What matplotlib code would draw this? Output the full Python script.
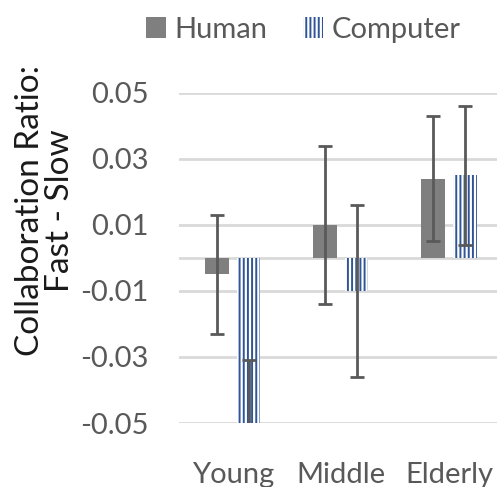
import matplotlib
matplotlib.use('Agg')
import matplotlib.pyplot as plt
import numpy as np

# collaboration ratio difference (fast - slow) per age group
groups = ['Young', 'Middle', 'Elderly']
human = [-0.005, 0.010, 0.024]
human_err = [0.018, 0.024, 0.019]
computer = [-0.050, -0.010, 0.025]
computer_err = [0.019, 0.026, 0.021]
yticks = [-0.05, -0.03, -0.01, 0.01, 0.03, 0.05]

plt.rcParams['font.family'] = ['Lato', 'DejaVu Sans']
plt.rcParams['hatch.color'] = '#2F5597'
plt.rcParams['hatch.linewidth'] = 1.4

fig = plt.figure(figsize=(4.97, 4.87), dpi=100)
ax = fig.add_axes([0.360, 0.1314, 0.652, 0.678])

x = np.arange(len(groups))
w = 0.22
off = 0.145
ekw = dict(ecolor='#595959', elinewidth=2, capsize=5, capthick=2)

ax.bar(x - off, human, w, color='#7F7F7F', label='Human', zorder=2,
       yerr=human_err, error_kw=ekw)
ax.bar(x + off, computer, w, color='white', edgecolor='#2F5597',
       linewidth=0, hatch='||||', label='Computer', zorder=2,
       yerr=computer_err, error_kw=ekw)

# gridlines incl. the zero line
for y in yticks + [0]:
    ax.axhline(y, color='#D9D9D9', lw=2, zorder=0)

ax.set_xlim(-0.5, 2.5)
ax.set_ylim(-0.05, 0.05)
ax.set_yticks(yticks)
ax.set_yticklabels(['%.2f' % v for v in yticks])
ax.set_xticks(x)
ax.set_xticklabels(groups)
ax.tick_params(axis='both', length=0, labelsize=21, colors='#595959')
ax.tick_params(axis='y', pad=22)
ax.tick_params(axis='x', pad=28)
for s in ax.spines.values():
    s.set_visible(False)

fig.text(0.091, 0.567, 'Collaboration Ratio:\nFast - Slow', rotation=90,
         ha='center', va='center', fontsize=24, color='#1a1a1a',
         linespacing=1.0)

fig.legend(loc='upper center', bbox_to_anchor=(0.61, 1.02), ncol=2,
           frameon=False, fontsize=21, labelcolor='#595959',
           handlelength=0.7, handleheight=0.7, handletextpad=0.3,
           columnspacing=1.2)

fig.savefig('out.png', dpi=100)
